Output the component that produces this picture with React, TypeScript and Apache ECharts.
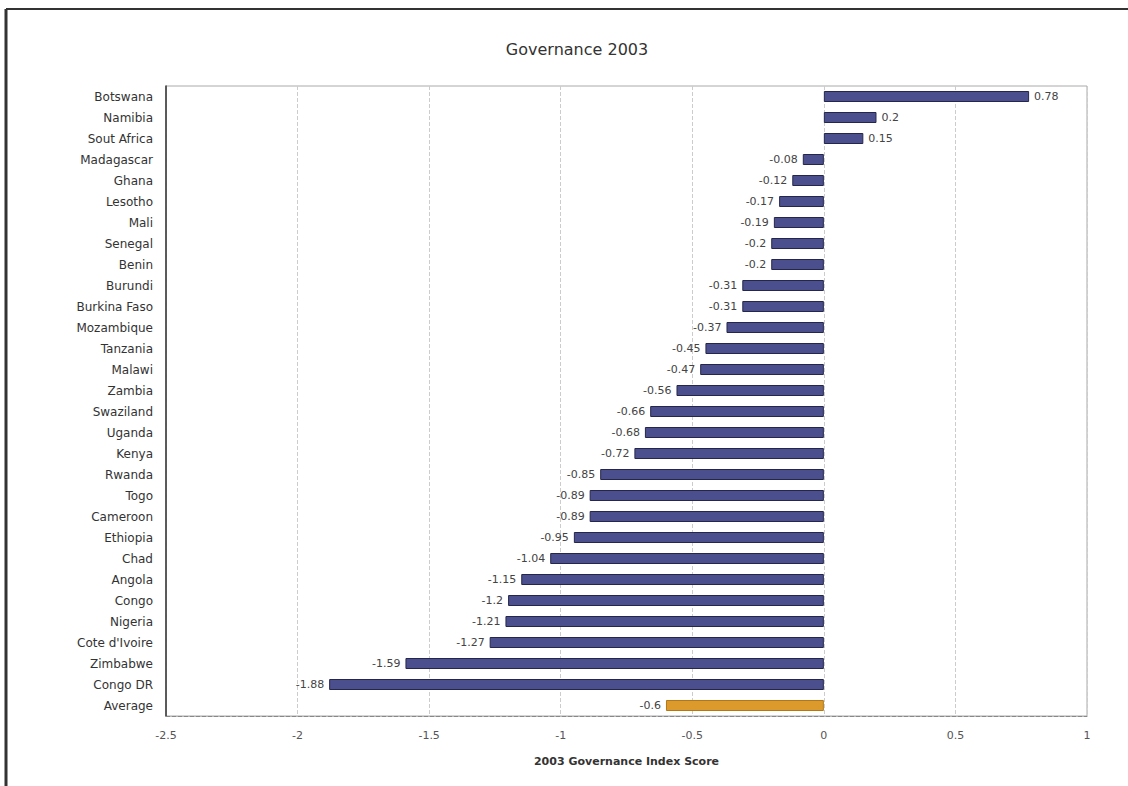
import React, { useEffect, useRef } from "react";
import * as echarts from "echarts";

const countries = [
  "Botswana", "Namibia", "Sout Africa", "Madagascar", "Ghana", "Lesotho", "Mali",
  "Senegal", "Benin", "Burundi", "Burkina Faso", "Mozambique", "Tanzania", "Malawi",
  "Zambia", "Swaziland", "Uganda", "Kenya", "Rwanda", "Togo", "Cameroon", "Ethiopia",
  "Chad", "Angola", "Congo", "Nigeria", "Cote d'Ivoire", "Zimbabwe", "Congo DR", "Average",
];
const scores = [
  0.78, 0.2, 0.15, -0.08, -0.12, -0.17, -0.19, -0.2, -0.2, -0.31, -0.31, -0.37, -0.45,
  -0.47, -0.56, -0.66, -0.68, -0.72, -0.85, -0.89, -0.89, -0.95, -1.04, -1.15, -1.2,
  -1.21, -1.27, -1.59, -1.88, -0.6,
];
const titleText = "Governance 2003";
const xAxisTitle = "2003 Governance Index Score";

const FONT = "'DejaVu Sans', 'Liberation Sans', Arial, sans-serif";

export default function App() {
  const ref = useRef<HTMLDivElement>(null);
  useEffect(() => {
    if (!ref.current) return;
    const chart = echarts.init(ref.current, null, { renderer: "svg" });
    const data = scores.map((v, i) => ({
      value: v,
      itemStyle: {
        color: countries[i] === "Average" ? "#dc9a2c" : "#4b4f8e",
        borderColor: countries[i] === "Average" ? "#b07818" : "#25274a",
        borderWidth: 1,
      },
      label: { position: v >= 0 ? "right" : "left" },
    }));
    chart.setOption({
      animation: false,
      backgroundColor: "#ffffff",
      title: {
        text: titleText,
        left: 572,
        top: 36,
        textAlign: "center",
        textStyle: { fontFamily: FONT, fontSize: 16, fontWeight: "normal", color: "#333" },
      },
      grid: {
        left: 166,
        right: 41,
        top: 86,
        bottom: 70,
        show: true,
        borderColor: "#aaa",
        borderWidth: 1,
      },
      xAxis: {
        type: "value",
        min: -2.5,
        max: 1,
        interval: 0.5,
        name: xAxisTitle,
        nameLocation: "middle",
        nameGap: 40,
        nameTextStyle: { fontFamily: FONT, fontSize: 11, fontWeight: "bold", color: "#333" },
        axisLine: { show: true, onZero: false, lineStyle: { color: "#888", type: "dashed" } },
        axisTick: { show: false },
        axisLabel: { fontFamily: FONT, fontSize: 11, color: "#555", margin: 14 },
        splitLine: { show: true, lineStyle: { color: "#ccc", type: "dashed" } },
      },
      yAxis: {
        type: "category",
        inverse: true,
        data: countries,
        axisLine: { show: true, onZero: false, lineStyle: { color: "#333", width: 1.5 } },
        axisTick: { show: false },
        axisLabel: { fontFamily: FONT, fontSize: 12, color: "#333", margin: 13 },
        splitLine: { show: false },
      },
      series: [
        {
          type: "bar",
          data,
          barWidth: 11,
          label: {
            show: true,
            distance: 5,
            fontFamily: FONT,
            fontSize: 11,
            color: "#444",
            formatter: (p: any) => String(p.value),
          },
        },
      ],
      graphic: [
        { type: "line", shape: { x1: 6, y1: 9, x2: 1128, y2: 9 }, style: { stroke: "#333", lineWidth: 2 } },
        { type: "line", shape: { x1: 6, y1: 9, x2: 6, y2: 786 }, style: { stroke: "#333", lineWidth: 3 } },
      ],
    });
    return () => chart.dispose();
  }, []);
  return <div ref={ref} style={{ width: 1128, height: 786, position: "absolute", left: 0, top: 0 }} />;
}
